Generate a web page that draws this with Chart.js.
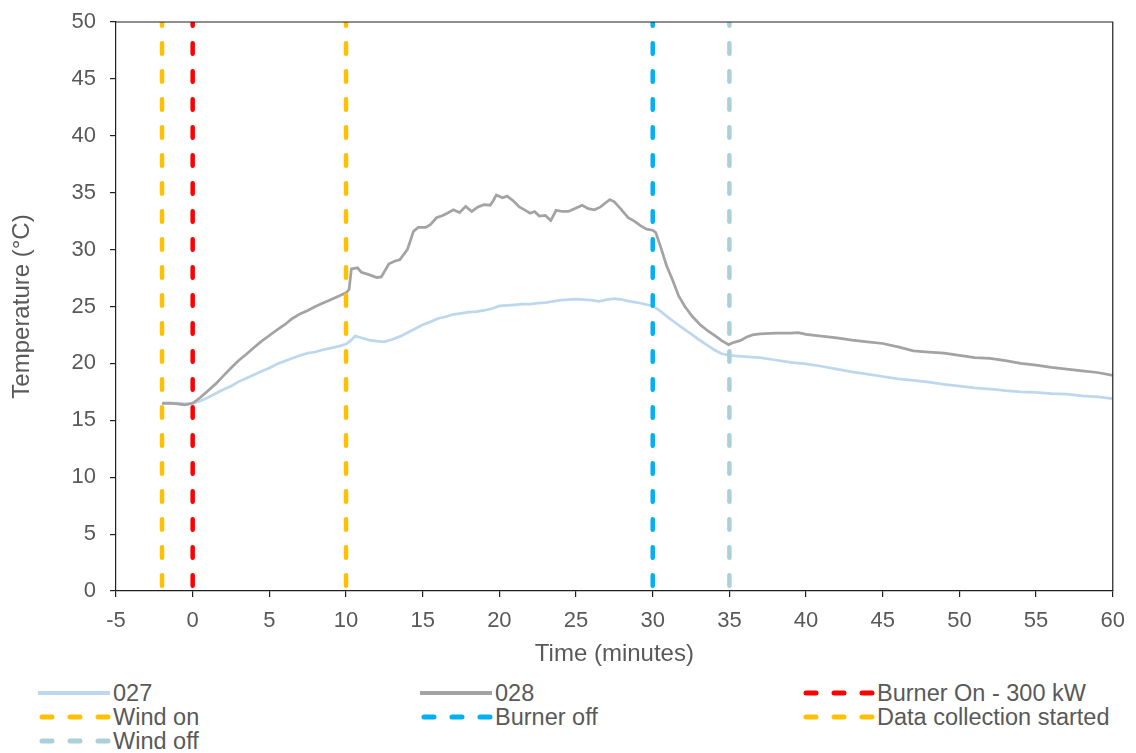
<!DOCTYPE html>
<html lang="en">
<head>
  <meta charset="UTF-8" />
  <title>Temperature over time</title>
  <script src="https://cdn.jsdelivr.net/npm/chart.js"></script>
  <style>
    body {
      margin: 0;
      background: #fff;
      font-family: 'Liberation Sans', Arial, sans-serif;
      color: #595959;
    }

    #wrap {
      position: relative;
      width: 1136px;
      height: 753px;
    }

    #chart {
      position: absolute;
      left: 0;
      top: 0;
    }

    .key {
      position: absolute;
      height: 24px;
      line-height: 24px;
      font-size: 23.5px;
      white-space: nowrap;
    }

    .key svg {
      position: absolute;
      left: 0;
      top: 8px;
    }

    .key span {
      position: absolute;
      left: 75px;
      top: 0;
    }
  </style>
</head>
<body>
  <div id="wrap">
    <canvas id="chart" width="1136" height="670"></canvas>
    <div id="legend"></div>
  </div>

  <script>
    // Sensor 027 (light blue)
    const time027 = [-2, -1, -0.5, 0, 0.5, 1, 1.5, 2, 2.5, 3, 3.5, 4, 4.5, 5, 5.5, 6, 6.5, 7, 7.5, 8,
      8.5, 9, 9.5, 10, 10.3, 10.6, 11, 11.5, 12, 12.5, 13, 13.5, 14, 14.5, 15, 15.5, 16, 16.5, 17, 17.5,
      18, 18.5, 19, 19.5, 20, 20.5, 21, 21.5, 22, 22.5, 23, 23.5, 24, 24.5, 25, 25.5, 26, 26.5, 27, 27.5,
      28, 28.5, 29, 29.5, 30, 30.5, 31, 31.5, 32, 32.5, 33, 33.5, 34, 34.5, 35, 36, 37, 38, 39, 40,
      41, 42, 43, 44, 45, 46, 47, 48, 49, 50, 51, 52, 53, 54, 55, 56, 57, 58, 59, 60];
    const temp027 = [16.5, 16.5, 16.45, 16.5, 16.7, 17.0, 17.35, 17.7, 18.0, 18.4, 18.7, 19.0, 19.3, 19.6, 19.95, 20.2, 20.45, 20.7, 20.9, 21.0,
      21.2, 21.35, 21.5, 21.7, 22.0, 22.4, 22.25, 22.05, 21.95, 21.9, 22.1, 22.35, 22.7, 23.05, 23.4, 23.65, 23.95, 24.1, 24.3, 24.4,
      24.5, 24.55, 24.65, 24.8, 25.05, 25.1, 25.15, 25.2, 25.2, 25.3, 25.35, 25.45, 25.55, 25.6, 25.65, 25.6, 25.55, 25.45, 25.6, 25.7,
      25.6, 25.45, 25.35, 25.2, 25.05, 24.6, 24.05, 23.55, 23.05, 22.6, 22.1, 21.65, 21.2, 20.85, 20.7, 20.6, 20.5, 20.3, 20.1, 19.95,
      19.75, 19.5, 19.25, 19.05, 18.85, 18.65, 18.5, 18.35, 18.15, 18.0, 17.85, 17.75, 17.6, 17.5, 17.45, 17.35, 17.3, 17.15, 17.05, 16.9];

    // Sensor 028 (grey)
    const time028 = [-2, -1.5, -1, -0.5, 0, 0.5, 1, 1.5, 2, 2.5, 3, 3.5, 4, 4.5, 5, 5.5, 6, 6.5, 7, 7.5,
      8, 8.5, 9, 9.5, 10, 10.2, 10.35, 10.75, 11, 11.5, 12, 12.3, 12.8, 13.2, 13.5, 14, 14.4, 14.7, 15.2, 15.5,
      15.9, 16.3, 16.6, 17, 17.4, 17.8, 18.2, 18.6, 19, 19.4, 19.6, 19.8, 20.2, 20.5, 20.9, 21.3, 21.7, 22, 22.3, 22.6,
      23, 23.35, 23.7, 24.1, 24.5, 24.9, 25.4, 25.8, 26.2, 26.6, 27.2, 27.5, 27.9, 28.4, 28.8, 29.2, 29.6, 30, 30.2, 30.5,
      30.9, 31.3, 31.7, 32.1, 32.6, 33.1, 33.6, 34.1, 34.5, 34.95, 35.3, 35.7, 36.1, 36.5, 37, 38, 39, 39.5, 40, 41,
      42, 43, 44, 45, 46, 47, 48, 49, 50, 51, 52, 53, 54, 55, 56, 57, 58, 59, 60];
    const temp028 = [16.48, 16.5, 16.45, 16.35, 16.5, 17.0, 17.6, 18.2, 18.9, 19.6, 20.25, 20.8, 21.4, 21.95, 22.45, 22.95, 23.4, 23.95, 24.35, 24.65,
      25.0, 25.3, 25.6, 25.9, 26.2, 26.5, 28.3, 28.4, 28.0, 27.8, 27.55, 27.6, 28.75, 29.0, 29.1, 30.0, 31.6, 31.95, 31.95, 32.2,
      32.8, 33.0, 33.2, 33.5, 33.25, 33.8, 33.35, 33.75, 33.95, 33.9, 34.3, 34.8, 34.55, 34.7, 34.3, 33.75, 33.45, 33.2, 33.35, 32.95,
      33.0, 32.55, 33.45, 33.35, 33.35, 33.6, 33.9, 33.6, 33.5, 33.75, 34.4, 34.2, 33.6, 32.8, 32.5, 32.1, 31.8, 31.7, 31.5, 30.3,
      28.6, 27.3, 25.9, 25.0, 24.1, 23.4, 22.85, 22.4, 22.0, 21.65, 21.85, 22.0, 22.3, 22.5, 22.6, 22.65, 22.65, 22.7, 22.55, 22.4,
      22.25, 22.05, 21.9, 21.75, 21.45, 21.1, 21.0, 20.9, 20.7, 20.5, 20.45, 20.25, 20.0, 19.85, 19.65, 19.5, 19.35, 19.2, 18.95];

    // Event markers (vertical dashed lines), in legend order
    const eventNames = ['Burner On - 300 kW', 'Wind on', 'Burner off', 'Data collection started', 'Wind off'];
    const eventTimes = [0, 10, 30, -2, 35];
    const eventColours = ['#FF0000', '#FFC000', '#00B0F0', '#FFC000', '#ABCFDB'];

    const seriesNames = ['027', '028'];
    const seriesColours = ['#BDD7EE', '#A3A3A3'];

    const textColour = '#595959';
    const axisColour = '#1f1f1f';
    const fontFamily = "'Liberation Sans', Arial, sans-serif";

    const toPoints = (xs, ys) => xs.map((x, i) => ({ x: x, y: ys[i] }));

    const datasets = [
      {
        label: seriesNames[0],
        data: toPoints(time027, temp027),
        borderColor: seriesColours[0],
        borderWidth: 2.75,
        pointRadius: 0,
        order: 3
      },
      {
        label: seriesNames[1],
        data: toPoints(time028, temp028),
        borderColor: seriesColours[1],
        borderWidth: 2.75,
        pointRadius: 0,
        order: 2
      }
    ];

    eventNames.forEach((name, i) => {
      datasets.push({
        label: name,
        data: [{ x: eventTimes[i], y: 0 }, { x: eventTimes[i], y: 50 }],
        borderColor: eventColours[i],
        borderWidth: 4.5,
        borderDash: [10.5, 17.5],
        borderDashOffset: 22.65,
        borderCapStyle: 'round',
        pointRadius: 0,
        order: 1
      });
    });

    // top and right edge of the plot box
    const plotFrame = {
      id: 'plotFrame',
      afterDatasetsDraw(chart) {
        const { ctx, chartArea: a } = chart;
        ctx.save();
        ctx.strokeStyle = axisColour;
        ctx.lineWidth = 1.2;
        ctx.beginPath();
        ctx.moveTo(a.left, a.top);
        ctx.lineTo(a.right, a.top);
        ctx.lineTo(a.right, a.bottom);
        ctx.stroke();
        ctx.restore();
      }
    };

    new Chart(document.getElementById('chart').getContext('2d'), {
      type: 'line',
      data: { datasets: datasets },
      options: {
        responsive: false,
        animation: false,
        layout: { padding: { left: 0, right: 21, top: 22, bottom: 0 } },
        plugins: {
          legend: { display: false },
          tooltip: { enabled: false }
        },
        scales: {
          x: {
            type: 'linear',
            min: -5,
            max: 60,
            ticks: {
              stepSize: 5,
              autoSkip: false,
              maxRotation: 0,
              padding: 11,
              color: textColour,
              font: { family: fontFamily, size: 22 }
            },
            grid: { drawOnChartArea: false, tickLength: 6, color: axisColour, lineWidth: 1.2 },
            border: { color: axisColour, width: 1.2 },
            title: {
              display: true,
              text: 'Time (minutes)',
              color: textColour,
              font: { family: fontFamily, size: 24 },
              padding: { top: 0, bottom: 1 }
            },
            afterFit: s => { s.height = 79; }
          },
          y: {
            min: 0,
            max: 50,
            ticks: {
              stepSize: 5,
              padding: 14,
              color: textColour,
              font: { family: fontFamily, size: 22 }
            },
            grid: { drawOnChartArea: false, tickLength: 6, color: axisColour, lineWidth: 1.2 },
            border: { color: axisColour, width: 1.2 },
            title: {
              display: true,
              text: 'Temperature (°C)',
              color: textColour,
              font: { family: fontFamily, size: 24 },
              padding: { top: 8, bottom: 0 }
            },
            afterFit: s => {
              s.width = 116;
              // the top label may overhang; let the layout padding decide the plot top
              s.paddingTop = 0;
              s.paddingBottom = 0;
            }
          }
        }
      },
      plugins: [plotFrame]
    });

    // Legend laid out in three columns like the original
    const legendItems = [
      { name: seriesNames[0], colour: seriesColours[0], dashed: false },
      { name: seriesNames[1], colour: seriesColours[1], dashed: false }
    ].concat(eventNames.map((n, i) => ({ name: n, colour: eventColours[i], dashed: true })));

    const colX = [38, 420, 802];
    const rowY = [681, 705, 729];
    const legend = document.getElementById('legend');
    legendItems.forEach((item, i) => {
      const div = document.createElement('div');
      div.className = 'key';
      div.style.left = colX[i % 3] + 'px';
      div.style.top = rowY[Math.floor(i / 3)] + 'px';
      const line = item.dashed
        ? `<line x1="4" y1="4" x2="70" y2="4" stroke="${item.colour}" stroke-width="5" stroke-linecap="round" stroke-dasharray="10 18"/>`
        : `<line x1="0" y1="4" x2="72" y2="4" stroke="${item.colour}" stroke-width="4"/>`;
      div.innerHTML = `<svg width="74" height="8">${line}</svg><span>${item.name}</span>`;
      legend.appendChild(div);
    });
  </script>
</body>
</html>
